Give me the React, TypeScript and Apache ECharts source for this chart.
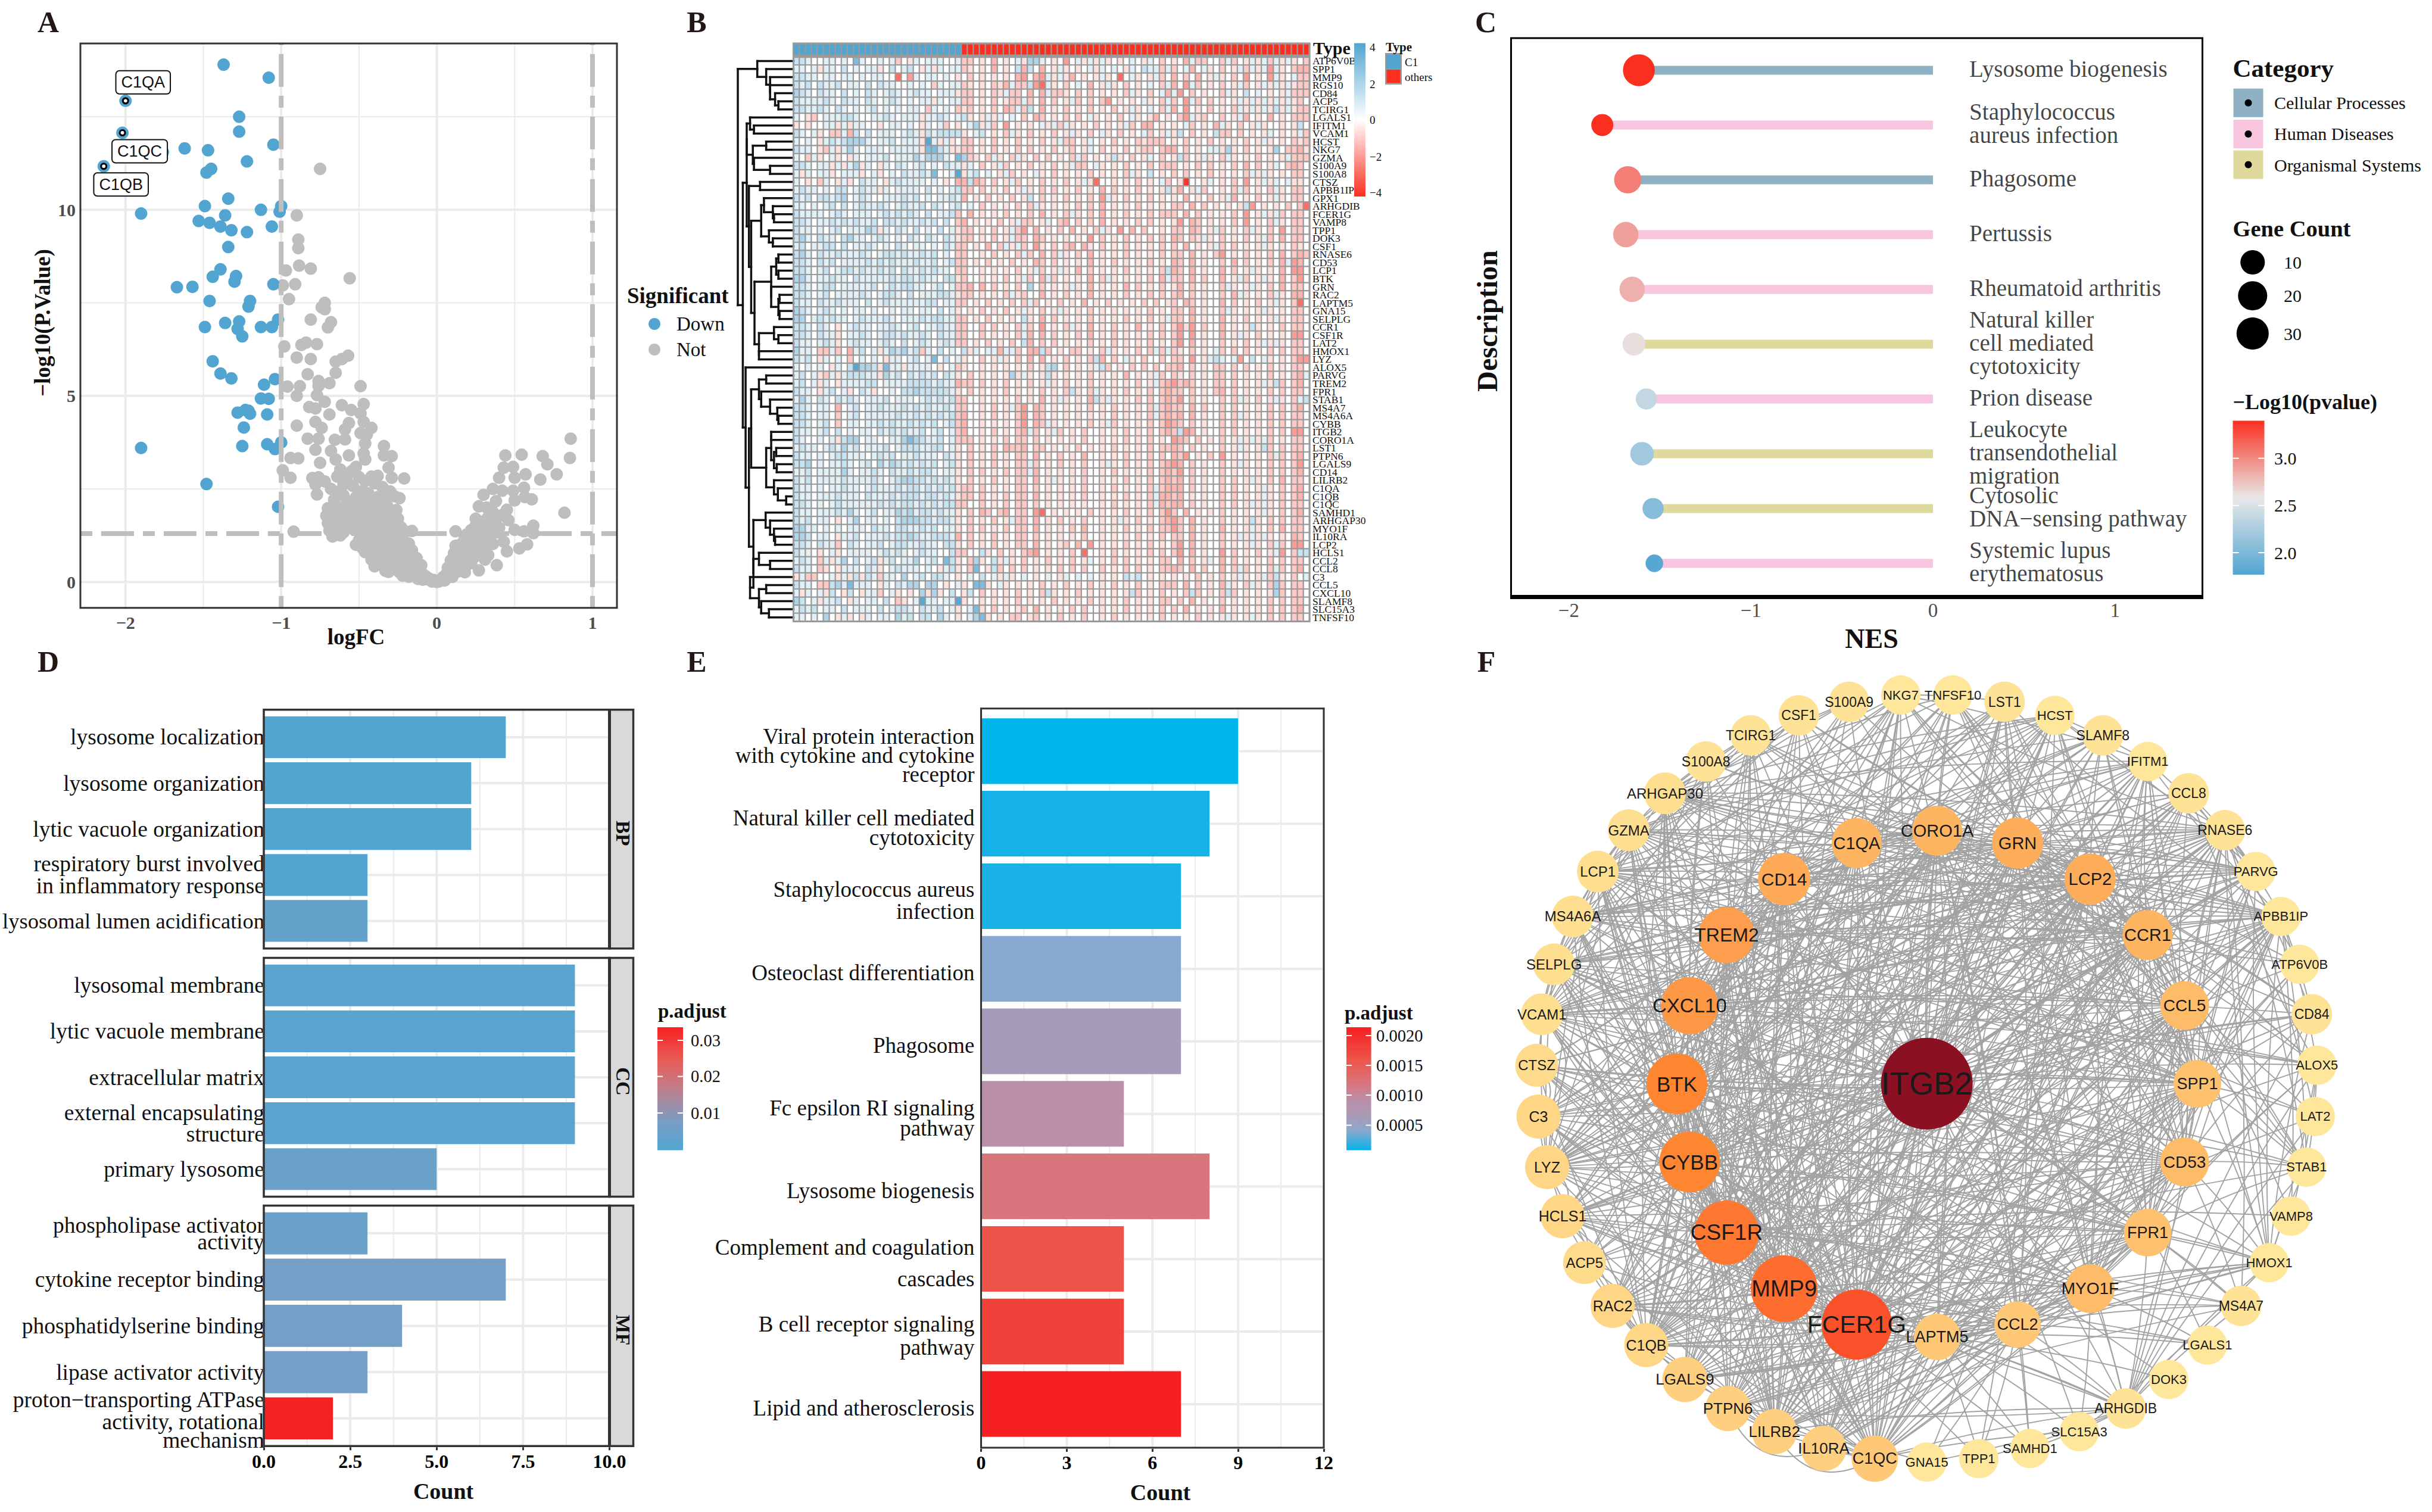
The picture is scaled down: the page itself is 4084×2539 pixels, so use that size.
import React, { useEffect, useRef } from "react";
import * as echarts from "echarts";

const SERIF = '"Liberation Serif"';
const SANS = '"Liberation Sans"';

// ---- Panel A
const volcanoDown = [[-1.37,13.9],[-1.08,13.55],[-1.27,12.5],[-1.27,12.1],[-1.05,11.75],[-1.62,11.65],[-1.47,11.6],[-1.76,11.55],[-1.22,11.3],[-1.45,11.1],[-1.48,11.0],[-1.34,10.3],[-1.49,10.1],[-1.0,10.1],[-1.01,9.95],[-1.13,10.0],[-1.36,9.85],[-1.9,9.9],[-1.53,9.7],[-1.46,9.65],[-1.06,9.55],[-1.39,9.55],[-1.32,9.45],[-1.22,9.4],[-1.34,9.0],[-1.39,8.4],[-1.44,8.2],[-1.29,8.22],[-1.3,8.07],[-1.05,8.0],[-1.67,7.92],[-1.57,7.93],[-1.46,7.55],[-1.2,7.55],[-1.21,7.4],[-1.02,7.05],[-1.27,7.0],[-1.36,6.96],[-1.13,6.85],[-1.06,6.85],[-1.49,6.85],[-1.28,6.8],[-1.25,6.6],[-1.44,5.93],[-1.39,5.6],[-1.32,5.47],[-1.04,5.45],[-1.11,5.3],[-1.13,4.93],[-1.08,4.92],[-1.28,4.55],[-1.23,4.62],[-1.21,4.6],[-1.2,4.52],[-1.09,4.5],[-1.24,4.15],[-1.0,3.75],[-1.09,3.7],[-1.25,3.65],[-1.04,3.57],[-1.9,3.6],[-1.48,2.63],[-1.02,2.02]];
const volcanoNamed = [{ name: "C1QA", x: -2.0, y: 12.93 },{ name: "C1QC", x: -2.02, y: 12.07 },{ name: "C1QB", x: -2.14, y: 11.17 }];
const volcanoNot = [[-0.75,11.1],[-0.9,9.85],[-0.89,9.2],[-0.89,8.97],[-0.885,8.5],[-0.81,8.42],[-0.97,8.37],[-0.56,8.16],[-0.91,8.0],[-0.99,7.97],[-0.95,7.6],[-0.72,7.5],[-0.74,7.38],[-0.72,7.33],[-0.81,7.05],[-0.68,6.98],[-0.7,6.84],[-0.98,6.33],[-0.87,6.37],[-0.84,6.43],[-0.77,6.39],[-0.9,6.03],[-0.81,5.99],[-0.57,6.08],[-0.61,5.99],[-0.65,5.92],[-0.65,5.62],[-0.83,5.58],[-0.76,5.4],[-0.69,5.34],[-0.76,5.27],[-0.49,5.26],[-0.88,5.26],[-0.96,5.25],[-0.9,5.0],[-0.77,5.02],[-0.72,4.84],[-0.47,4.78],[-0.61,4.75],[-0.82,4.7],[-0.78,4.66],[-0.55,4.62],[-0.49,4.53],[-0.69,4.5],[-0.78,4.3],[-0.565,4.27],[-0.47,4.3],[-0.42,4.14],[-0.74,4.14],[-0.9,4.2],[-0.59,4.1],[-0.49,4.0],[-0.45,3.96],[-0.83,3.85],[-0.76,3.85],[-0.655,3.82],[-0.59,3.83],[-0.46,3.72],[-0.34,3.65],[-0.78,3.55],[-0.68,3.52],[-0.565,3.4],[-0.47,3.45],[-0.34,3.4],[-0.29,3.38],[-0.94,3.33],[-0.89,3.32],[-0.46,3.29],[-0.65,3.29],[-0.75,3.2],[-0.52,3.09],[-0.31,3.07],[-0.99,3.0],[-0.94,2.8],[-0.76,2.81],[-0.8,2.79],[-0.62,3.02],[-0.55,2.97],[-0.42,2.83],[-0.38,2.85],[-0.29,2.8],[-0.21,2.78],[-0.72,2.7],[-0.64,2.83],[-0.58,2.76],[-0.5,2.82],[-0.46,2.71],[-0.78,2.62],[-0.68,2.5],[-0.6,2.62],[-0.54,2.58],[-0.4,2.65],[-0.35,2.55],[-0.3,2.43],[-0.77,2.35],[-0.65,2.42],[-0.6,2.33],[-0.48,2.44],[-0.44,2.38],[-0.38,2.28],[-0.33,2.39],[-0.27,2.3],[-0.24,2.25],[-0.66,2.21],[-0.58,2.18],[-0.52,2.27],[-0.47,2.16],[-0.43,2.22],[-0.39,2.12],[-0.34,2.17],[-0.7,1.98],[-0.65,2.04],[-0.6,1.95],[-0.55,2.06],[-0.5,1.96],[-0.45,2.02],[-0.41,1.9],[-0.36,1.98],[-0.32,2.05],[-0.26,1.93],[-0.71,1.78],[-0.66,1.83],[-0.61,1.72],[-0.56,1.84],[-0.5,1.74],[-0.46,1.8],[-0.42,1.69],[-0.38,1.82],[-0.34,1.72],[-0.29,1.81],[-0.25,1.7],[-0.7,1.58],[-0.64,1.63],[-0.58,1.54],[-0.52,1.62],[-0.47,1.52],[-0.43,1.58],[-0.39,1.47],[-0.35,1.6],[-0.31,1.5],[-0.27,1.56],[-0.23,1.47],[-0.69,1.38],[-0.65,1.42],[-0.6,1.33],[-0.53,1.4],[-0.49,1.3],[-0.45,1.37],[-0.41,1.26],[-0.37,1.38],[-0.33,1.28],[-0.29,1.35],[-0.25,1.25],[-0.2,1.35],[-0.16,1.37],[-0.92,1.35],[-0.67,1.22],[-0.62,1.25],[-0.5,1.12],[-0.46,1.17],[-0.42,1.07],[-0.38,1.16],[-0.34,1.06],[-0.3,1.13],[-0.26,1.03],[-0.22,1.1],[-0.18,1.03],[-0.52,1.0],[-0.48,0.92],[-0.44,0.98],[-0.4,0.88],[-0.36,0.94],[-0.32,0.84],[-0.28,0.92],[-0.24,0.82],[-0.2,0.9],[-0.16,0.85],[-0.46,0.8],[-0.41,0.72],[-0.37,0.78],[-0.33,0.67],[-0.29,0.74],[-0.25,0.64],[-0.21,0.72],[-0.17,0.62],[-0.13,0.64],[-0.42,0.6],[-0.38,0.52],[-0.34,0.58],[-0.3,0.48],[-0.26,0.55],[-0.22,0.45],[-0.18,0.5],[-0.14,0.4],[-0.1,0.45],[-0.4,0.42],[-0.33,0.3],[-0.28,0.34],[-0.24,0.26],[-0.2,0.31],[-0.16,0.24],[-0.12,0.28],[-0.09,0.21],[-0.31,0.27],[-0.22,0.17],[-0.18,0.14],[-0.14,0.17],[-0.1,0.12],[-0.07,0.15],[-0.05,0.09],[-0.12,0.08],[-0.09,0.06],[-0.06,0.07],[-0.04,0.04],[-0.02,0.05],[-0.03,0.01],[-0.01,0.02],[0,0],[0.01,0.01],[0.86,3.85],[0.855,3.33],[0.68,3.38],[0.71,3.16],[0.77,2.89],[0.665,2.75],[0.545,3.42],[0.44,3.4],[0.49,3.09],[0.43,3.07],[0.57,2.89],[0.4,2.8],[0.5,2.8],[0.56,2.53],[0.36,2.5],[0.42,2.45],[0.49,2.45],[0.3,2.34],[0.565,2.28],[0.61,2.22],[0.5,2.19],[0.82,1.86],[0.38,2.17],[0.27,2.03],[0.32,2.0],[0.45,1.94],[0.36,1.88],[0.46,1.66],[0.62,1.51],[0.25,1.52],[0.32,1.51],[0.5,1.4],[0.56,1.36],[0.62,1.31],[0.12,1.36],[0.19,1.27],[0.39,1.33],[0.43,1.08],[0.58,1.01],[0.53,0.9],[0.45,0.82],[0.385,0.45],[0.27,0.31],[0.18,0.26],[0.42,1.8],[0.38,1.67],[0.33,1.74],[0.29,1.62],[0.25,1.7],[0.4,1.45],[0.35,1.38],[0.3,1.43],[0.26,1.33],[0.22,1.39],[0.18,1.18],[0.34,1.21],[0.29,1.14],[0.25,1.22],[0.21,1.06],[0.16,1.03],[0.12,0.97],[0.36,1.02],[0.31,0.94],[0.27,1.0],[0.23,0.87],[0.19,0.92],[0.15,0.84],[0.11,0.77],[0.33,0.72],[0.28,0.8],[0.24,0.66],[0.2,0.72],[0.16,0.62],[0.12,0.66],[0.09,0.58],[0.31,0.6],[0.22,0.5],[0.18,0.45],[0.14,0.48],[0.1,0.41],[0.07,0.38],[0.15,0.3],[0.12,0.25],[0.09,0.27],[0.06,0.2],[0.1,0.14],[0.07,0.12],[0.04,0.13],[0.03,0.06],[0.05,0.04],[0.02,0.03]];

// ---- Panel B
const geneNames = ["ATP6V0B","SPP1","MMP9","RGS10","CD84","ACP5","TCIRG1","LGALS1","IFITM1","VCAM1","HCST","NKG7","GZMA","S100A9","S100A8","CTSZ","APBB1IP","GPX1","ARHGDIB","FCER1G","VAMP8","TPP1","DOK3","CSF1","RNASE6","CD53","LCP1","BTK","GRN","RAC2","LAPTM5","GNA15","SELPLG","CCR1","CSF1R","LAT2","HMOX1","LYZ","ALOX5","PARVG","TREM2","FPR1","STAB1","MS4A7","MS4A6A","CYBB","ITGB2","CORO1A","LST1","PTPN6","LGALS9","CD14","LILRB2","C1QA","C1QB","C1QC","SAMHD1","ARHGAP30","MYO1F","IL10RA","LCP2","HCLS1","CCL2","CCL8","C3","CCL5","CXCL10","SLAMF8","SLC15A3","TNFSF10"];
const c1Samples = 28;
const otherSamples = 58;
const cellLevels: Record<string, number> = { "0": 0, "1": 0.7, "2": 1.3, "3": 1.9, "4": 3, "5": 3.9, a: -0.6, b: -1.05, c: -1.45, d: -1.9, e: -2.8, f: -3.9 };
const expressionRows = [
"2210011010 4100101b0a 10111001bb 0a0c0a01a3 310a0d01a1 a1a0a010a1 0b0a0c1bb0 0b1b0a1a1b 1a1a0b",
"1101a11020 1011a02012 0a1a1011ba 0a0c0a02c2 0c0a1a0a01 a1010a1021 1b1b01c01a 0b0a1b1a1d 1a0bcc",
"2211011011 0101100e0d 1011010a0b 0a0a0a0cd0 cd1a1ac0a0 a1a0e01a0a 1b0c0b0c0a 1a0b0d0a0d 1a01bb",
"2120211201 1020211001 010b1011ba 0a0bac1bb2 de1a0b010c 0a1a0b0a01 0b1c0d1b0a 0b0a1b0a1a 1a1abb",
"3210211020 1021012101 2110111abb 0a0ba1bb0c 0c1bba0b0b 0a0a0b1a0b 01c1d0b0a0 0b1a02010a 0a1bbb",
"2111121021 1021012101 011a1011bb 0a0b0abb1b 0c0b0a1b0b 0bd0a0a01a 0b1b0d1b0b 0a0a1a1a1a 1a1ab0",
"2211210210 1012010101 10b1010bab 0a0b0cb1b2 0c0a0b0a0b 0a0b0a1a01 0b1c0d0a0b 0a0b1a1a1a 2a1abb",
"10ab011122 1001121011 1a1121012a 0a1a1010b0 cb0a0b0b01 a0a0b01a0a c0a0bd1ab0 0b0a1c0a0c 0a0bbb",
"a0a0011a1a 1100a01101 0a101b0a01 3a1b0d0a0a 01a1b1a0a0 b0a0a1b0cc 0a0a01b0a0 c1a0b0a1a0 0a0a20",
"2101a0bb1c 2020111012 1a212222a0 120a0b1a0b 0a0b0a1a0b 01a0b0a01b 0a1a20b0a0 2bb0b0a0a1 0a0a1b",
"1010a12123 3310112011 1a51a1a0bb 0a0b0a0b0a 0b0a1bb0a1 0a0b0a0bab bb0a0b0a0b 0a0a0b0a1a 0a0bab",
"2110ab1a13 1011101111 1a4421aabb 0a0b0a0b0b 0a0b0ab0a1 0b0a0b0abb 0bcc0b0a01 1a3a0b0a0a 30bbca",
"10b1a01a0a 1011120111 313331043b a0b1a0b1a0 b0b0a0b1b0 a0a2a0b0a1 0b0a2b0a1a 0b1a0a0b0a 0a1bbb",
"221011a1a1 3a10a10210 12010211a1 0b0a1b0a0b 0a0b0a1bb0 1a0a0b0a0b 0bbb0a0b0b 0a0b0c0b0a 10bcb0",
"1a1011a011 1a01a01021 12140015a1 2010a1b0a0 1a0b0a0a0b 0a0a0b1a02 0a0b0b0a0b 0a0a0b1a1a 0a0bb0",
"10a0b10a1a 02110a1211 1101 0a0cc2 cb0b0a1b0a 0b0a0b0a1a e00a0a0b0a 01b0af00a1 0a0b0d0a1a 101aa0",
"1211010220 1211a10111 10201012bb 0b0a0b0a1a 0b0b0a0b0a 0c0b0a0b0a 0a2ac0a1b0 0a0b1b0a0b 1a0bb0",
"2120221230 1210011121 20101121c0 a0b0a0b0a2 0b0a0b0a0b 0d1a0b0a0b 0a0a0c0a0b 0a1c0a0b0a 1a0bb0",
"1101012020 1211210121 1202101201 0b0a0a0b0b 1a0a0a0b0b 0c0a0a0b0a 0a0bb0c0b0 a0a0a2d0a0 a0b0be",
"2111101210 1110121212 1020112b0c 0a0a0b0a0b 0c0a0b1a0b 0c0a0b0a0b 0bbb0c0b0a 0a0b0d0a1a 1b0bb0",
"2210112121 2112022121 1212020bc0 a0a0b0a1bb 0a10bc0b0b 0c0a0a0b0b 0a0ad0cb0a 0a0b0d0a0b 1a0bb0",
"2110101201 1132a10210 2010201abb 0a0b0a1bd0 c0a0b0c0a0 b1a0d0c0b0 0a0bb0cb0a 1b0a0b1a0b 0d0bb0",
"2310211023 1101210102 1021021abb 0a0b0a1bb0 cb0a0a0a0d 0b0a0b0a0b 0b0cb0ba1a 0b0a0b0a1b 0c0bb0",
"1201122020 1121010210 1101021bb0 a0c0b1a1b0 da0b0bc0ca 0b0a0b0a0a 0b0b0c0a0a 1b0b0a0a1a 0a0ba0",
"2310211211 1210122121 1212010bb0 0a0b0a0b1b 0c0b1a0b0c 0a0a0b0a0a 0b0bb0c0a0 bd0a0b0a0b 0c0bcb",
"2210212011 1121212111 2112012bb0 a0b0a0b0a0 cb0b0a0a0c 0a0b0a0a0b 0a0cb0c0a0 0b0c0b0a0b 0c1dc0",
"2210120122 1211212021 1212110bb0 0a0a0a0b0a 1b0a1a0c0b 0a0a0b0a0a 0b2cb0c0a0 0c0b0a1a0a 0c0dd0",
"3310112110 2111112122 1211022ab0 0a0a0b0a1b 0c1b0a0a0c 0b1a0a0a0b 0c1bb0c0b0 0c0a1b0a1a 0c0bd0",
"2210122011 1112012122 1101201bbc 0c0b0a0b03 0b0a0a1a0c 0a0a0c0b0a 0b0ac0b0a0 0b1a0a1a0b 0c0bb0",
"2210120111 1210122102 0111221abb 0a0a0b1ab0 0c0a0b0a0c 0a0a0b0a0b 0b0bc0b0a0 0b0c1a0a0b 1a0cc0",
"2110211211 1020121111 1122011bb0 a0b0a0b0b1 b0a0b0a0c0 a0b0a0a0b0 b0ab0cb0a0 0c0b0a0b0a 1a0be0",
"3210121010 1101001011 0110201a0a 0b0a0b0a1a 0b0a1a0a0b 0a0a0a0a0b 0a0bb0c0a0 0b1a0a0a1a 0a0bb0",
"3301212110 1211121011 1212211bb0 a0b0a0a02a 0c0b0a0a0b 0a0a0b0a0b 0a1bb0c0a0 0c0a0b0a0a 1a0bb0",
"2210210a01 2110112101 2011211bb0 0b0b0a0b1b 0d0a0b1a0c 0a0b0a0c0a 0b0bdad0b0 0c0a0a2a0a 0b0bb0",
"2210211a01 1210122121 1210211bb0 0b0a0a0b1c 0c0b0a0b0c 0a0b0a0a0b 0b0bd0d0a0 0c0a1a0b0a 0a0dd0",
"2110121a01 2110121020 1210121bb0 a0b0a0b02c 0b0b0a0a0b 0a0b0a0a0b 0a0bd0c0a0 0b0a0b0a1a 1a0bb0",
"3110bb1b0c 1201a13231 2b1020102a 1011c11b0c c2b0a0bb0a 0b1a0a0b0b 1b1ba0b0a0 1b0b0b0a0b 0b0bb0",
"2120a1010b 01010a1101 20140201a0 0b0a1a0b0c 0c0a0b0a0b 2c0b01a0b0 0b0bb0d0a1 2101d0201a 0a0bdd",
"101010a102 5332a411a1 1110a01ba0 0a0a0a0a0b 0a230b0a0a 12b0a0b0b0 b0bbc0b0a0 bb0b0b0a0b 0a0bb0",
"1201ab1a12 2211a31202 1212021a0b 0a0a0a3a1a 0a2a0a0a0b 0a0a0c0a0a 1b0ba0b0a0 bb0b0a0a0b 0a0bc1",
"1201a10a11 1122011112 2221211cbb 0b0a0b0a0b 0a1a0b0a0b 0a0a0a0b0a 1bcdbcb0a0 bb0b0a0a1a 2b0bc0",
"2110a1201a 021a001022 3222221a0b 0a0a0b0a0a 0b0a0b2a0b 1a0a0b0a0b 0bcbb0b0a0 bc0b0a0a0b 0b0bb0",
"1310210212 1011120111 0121212bb0 0a0a0a0b0a 0c0a1a0a0c 2a1a0a0b0b 0bcbd0b0a0 0b0b1a0b0a 1a0b12",
"2210110c01 2011211121 2121121bb0 0a0b0a1bd0 cb0a0a0a0b 0a0b0a0a0b 1bcbb0c0b0 0b0b0a0a0b 0b0bc0",
"2210110b01 2011111211 2121212bc0 0a0b0a0bd0 cb0a0a0a0a 0a0b0a0a0b 1bcbc0c0a0 0b0b1a0a0b 0b0bb0",
"2210120b01 1011212112 1212012bc0 0a0a0a0bd0 cb1a0a0a0b 0a1b0a0a0b 0bdcb0b0a0 0b0b0a0a0b 0b0bb0",
"2110120201 0110212121 1201201bc0 0a0b0a0bc1 b0a1b0a0b0 0a0a0b0a0b 0bcb2dc0a0 0b0b0a0a0b 0b0dd0",
"2100101a23 3011001134 3211201bbb 0a0a0b0bb0 b0a0a0a0b0 0a0a0b0a0b 0a0dcb0b0a 0b0a1a1a1b 0a0bb0",
"1211012131 2011120122 2112201a0b 0a0b0cbbc0 bb0a0a0b0a 0a0b0a0a0b 0bbcb0b0a0 0b0a1a0a2b 0b0bb0",
"2110101221 1101212011 2111021a0b 0a0b0a0bb0 c0a0b0a0c0 0a0a0b0a0b 0b0cbd0a0b 0d0a0a0a0b 1b0bc0",
"2230101121 0120313212 1212012a0b 0a0b0a0bb1 b0a0b0a0b0 0a1a0b0a0b 0bcdc0b0a0 0b0a1a0a0b 0b0bd0",
"1120111131 0112102112 1221011a0b 0b0a0b0bb1 c0a0a0a0b0 0a0b0a0a0b 0bcbd0b0a0 0b0a0a0a0b 0b0bc0",
"2120111121 1112101233 2212121a0b 0a0b0a0bb0 c0a1a0a0b0 0a0a0b0a0b 0bcbc0b0a0 0b0b0a1a0b 0c0bb0",
"2110101121 1012111212 2121212abb 0b0a0a0bb0 b0a0a0a0b0 0a0b0a0a0b 1bccc0b0a0 0b0b0a0a1a 0b0bc0",
"2110111211 1021112122 2122121abb 0b0a0b0bb0 c0a0a0a0b0 0a0a0b0a0b 1ccbc0a0a0 0b0b0a0a1a 0b0bc0",
"2210101211 1111212122 1212122bb0 0b0a0b0bb0 b0a0a0a0a0 0a0b0a0a0b 1cbcc0b0a0 0b0b0a1a1a 0b0bb0",
"2110111213 1012011323 1221211a0b 0cb0bc0bb0 de0a0a0a0b 0a0a0b0a0b 0bdb0c0a0a 0b0a0a0a1a 0b0bc0",
"2120110a01 3011010233 3221221a0b 0a0b0a1bb0 c0a0b0a0b0 0a0a1a0b0a 0bcdb0c0a0 0b0a0a2a0b 0b0bb0",
"3311010101 1102110221 1212011a0b 0b0a0b0bb0 c0a0a0b0c0 0a0a0b0a0b 0bbdb0c0a0 0c0a0a1a0b 0c0bb0",
"3320110a11 2011121223 2112221c0b 0a0b0a0bb0 b0a0a0a0b0 0a0a0a0b0a 0b0bb0c0a0 0b0a1a1a1a 0a0cb0",
"2210211b02 1011201221 1211022a0b 0a0b0a0bb0 c0a0ab0c0d 0a0a0b0a0b 0a0bd0c0a0 0b0a0a1a0b 1b0dd0",
"2110a01a01 1110121210 1211002bb0 02a0b0a0bc d0a0a0b0e0 0a0b0a0a0b 0b0bd0c0a0 0d0b0a0b0a 1d0b22",
"1210b1a130 2012a12011 3012042a0b 3a02a1a0b0 a0b0a0b0a1 0a0b0b0a0a 0bb0c0b0a1 0c0b0a0a0b 0b0bb0",
"2110ba0a11 1021a01211 1010a12a0b 40a2b0b0b0 a0a0b0b0b0 0b0a0b0b0a 0bbcb0c0b0 0c0b1b0a0b 1b0bc0",
"a1bb001a1a 2a21b11030 1202210a01 0201a1a010 a010a10101 0a0a02120a 0a0a0a0b0a 0b0a1a0a1b 2a0b01",
"2110bb2314 1110a10213 30330a01a0 44a01a0a0a 0b0a0b0a0b 0a0b0a0b0a 0bbb0c0b0a 0c1a0b1a0b 3b0bb0",
"1a101a20a2 0a11b01a0a 03a3a020a2 0b0a0a0b0a 0b2a0a0b0a 0a0a0a2b0a 0b0a0b2b0a 0b2b0a0a0a 3b0bb0",
"3201a1120a 1011020ba0 15110115a0 0a0a0a0b0a 0a0b0a0a0b 0a0a0b0a0a 0bb0b0c0a0 0b0a0a0a0b 0b0bb0",
"1212011020 1110201221 0211201a01 4a0b0a0ab0 c0a0a0b0b0 0a0a0b0a0a 0b0b0c0a0a 0c0a0a0a0b 0b0bc0",
"1101030a1a 0a10110312 0220310a01 34a0a0bb0a b0a0b0a0b0 0a0b0a0a0a 0b0a0a0b0a 0a1a0a1a0b 0b0bb0",
];
// dendrogram: [height, left, right], leaves are row numbers
const dendrogram: any = [1.0,
  [0.65,0,[0.49,1,[0.42,2,[0.42,3,[0.33,4,[0.27,5,6]]]]]],
  [0.91,
    [0.84,
      [0.84,[0.78,7,[0.71,8,9]],[0.73,[0.49,10,11],[0.71,12,[0.42,13,14]]]],
      [0.8,[0.6,15,16],[0.76,
        [0.58,[0.53,17,[0.37,18,[0.35,19,20]]],[0.44,21,[0.37,22,23]]],
        [0.7,[0.4,[0.31,[0.27,24,25],[0.27,26,27]],[0.4,28,[0.27,[0.25,29,30],[0.25,31,32]]]],
          [0.62,[0.35,33,[0.27,34,35]],[0.62,36,37]]]]]],
    [0.86,38,[0.8,
      [0.76,[0.62,[0.49,39,40],[0.58,41,[0.42,42,[0.29,43,[0.27,44,45]]]]],
        [0.49,[0.4,[0.4,46,47],[0.35,[0.31,48,49],[0.3,50,51]]],[0.35,52,[0.28,53,[0.13,54,55]]]]],
      [0.72,[0.5,56,[0.42,57,[0.35,58,[0.33,59,60]]]],
        [0.72,[0.62,61,[0.42,62,63]],[0.78,64,[0.62,[0.49,65,66],[0.58,67,[0.44,68,69]]]]]]]]]];

// ---- Panel C
const pathwayLabels = ["Lysosome biogenesis","Staphylococcus\naureus infection","Phagosome","Pertussis","Rheumatoid arthritis","Natural killer\ncell mediated\ncytotoxicity","Prion disease","Leukocyte\ntransendothelial\nmigration","Cytosolic\nDNA−sensing pathway","Systemic lupus\nerythematosus"];
const pathwayNES = [-1.615,-1.816,-1.676,-1.687,-1.652,-1.642,-1.574,-1.598,-1.537,-1.53];
const pathwayGeneCount = [29,7,16,12,12,8,6,9,6,3];
const pathwayLogP = [3.4,3.4,3.05,2.9,2.83,2.63,2.38,2.2,2.05,1.8];
const pathwayCategory = [0,1,0,1,1,2,1,2,2,1];
const categoryNames = ["Cellular Processes","Human Diseases","Organismal Systems"];
const categoryColors = ["#8fb1c4","#f7c6de","#dfd99c"];

// ---- Panel D
const goFacets = [
  { strip: "BP", terms: ["lysosome localization","lysosome organization","lytic vacuole organization","respiratory burst involved\nin inflammatory response","lysosomal lumen acidification"], counts: [7,6,6,3,3], padj: [0.0001,0.0002,0.0002,0.0003,0.0037] },
  { strip: "CC", terms: ["lysosomal membrane","lytic vacuole membrane","extracellular matrix","external encapsulating\nstructure","primary lysosome"], counts: [9,9,9,9,5], padj: [0.0016,0.0016,0.0016,0.0016,0.005] },
  { strip: "MF", terms: ["phospholipase activator\nactivity","cytokine receptor binding","phosphatidylserine binding","lipase activator activity","proton−transporting ATPase\nactivity, rotational\nmechanism"], counts: [3,7,4,3,2], padj: [0.0054,0.0072,0.0072,0.0072,0.0337] },
];
// ---- Panel E
const keggTerms = ["Viral protein interaction\nwith cytokine and cytokine\nreceptor","Natural killer cell mediated\ncytotoxicity","Staphylococcus aureus\ninfection","Osteoclast differentiation","Phagosome","Fc epsilon RI signaling\npathway","Lysosome biogenesis","Complement and coagulation\ncascades","B cell receptor signaling\npathway","Lipid and atherosclerosis"];
const keggCounts = [9,8,7,7,7,5,8,5,5,7];
const keggPadj = [0.00008,0.00012,0.00013,0.0004,0.0006,0.0009,0.0012,0.0016,0.0018,0.00214];

// ---- Panel F
const outerRing = ["NKG7","TNFSF10","LST1","HCST","SLAMF8","IFITM1","CCL8","RNASE6","PARVG","APBB1IP","ATP6V0B","CD84","ALOX5","LAT2","STAB1","VAMP8","HMOX1","MS4A7","LGALS1","DOK3","ARHGDIB","SLC15A3","SAMHD1","TPP1","GNA15","C1QC","IL10RA","LILRB2","PTPN6","LGALS9","C1QB","RAC2","ACP5","HCLS1","LYZ","C3","CTSZ","VCAM1","SELPLG","MS4A6A","LCP1","GZMA","ARHGAP30","S100A8","TCIRG1","CSF1","S100A9"];
const outerDegree = [8,8,9,8,9,8,9,9,8,8,8,9,8,8,8,8,8,9,8,8,9,8,8,8,8,14,13,13,13,13,12,12,11,12,12,12,11,10,10,10,10,10,10,9,9,9,9];
const innerRing = ["CORO1A","GRN","LCP2","CCR1","CCL5","SPP1","CD53","FPR1","MYO1F","CCL2","LAPTM5","FCER1G","MMP9","CSF1R","CYBB","BTK","CXCL10","TREM2","CD14","C1QA"];
const innerDegree = [17,18,18,17,16,15,16,15,16,14,14,34,31,29,26,26,23,22,19,17];
const hubName = "ITGB2";
const hubDegree = 52;
const edgeLists: number[][] = [
[67,0,1,2,3,4,5,6,7,8,9,11,12,14,16,17,20,21,25,26,27,28,29,30,31,32,33,34,35,36,37,38,39,40,41,42,43,44,45,46,47,48,49,50,51,52,53,54,55,56,57,58,59,60,61,62,63,64,65,66],
[58,0,2,3,6,7,8,9,11,13,16,17,20,22,25,26,27,28,29,30,31,32,33,34,35,36,37,38,39,40,41,42,44,45,47,48,49,50,51,52,53,54,55,56,57,59,60,61,62,63,64,65,66],
[59,1,3,5,7,9,12,14,18,20,23,25,26,27,28,29,30,31,33,34,35,36,37,38,39,40,42,43,44,46,47,49,50,51,52,53,55,56,60,61,62,63,64,65,66],
[60,0,2,4,6,7,8,10,15,17,25,26,27,28,29,30,31,32,33,34,35,37,38,39,40,41,42,44,45,47,48,49,50,53,54,55,61,62,64,65,66],
[61,1,3,5,7,9,11,16,20,25,26,27,28,29,30,31,33,34,36,37,38,39,40,41,42,43,45,46,47,49,50,51,53,54,55,62,63,64,65,66],
[62,0,2,4,6,8,14,19,25,26,27,28,29,30,32,33,34,35,36,37,38,39,40,41,42,44,47,49,50,52,53,55,57,63,65],
[63,0,1,3,5,7,9,12,25,27,28,30,31,33,34,35,37,38,40,41,42,43,46,47,49,50,51,52,56,64,66],
[64,2,4,6,8,10,25,26,27,29,30,31,32,34,36,38,39,40,42,44,48,49,50,52,54,65,66],
[65,1,3,5,7,9,25,26,27,28,29,30,31,33,35,37,39,40,41,44,47,48,49,50,53,66],
[66,0,2,4,6,8,25,26,27,28,29,30,32,34,36,39,42,45,47,48,49,50,52],
[47,1,3,5,7,9,26,28,30,33,35,38,40,41,43,46,48,49,50,51,12,14,20,22,25,27,29,31,34,37,39,42,44,52,53,54,55,56,57],
[48,0,2,6,8,10,27,29,31,34,37,39,42,44,49,50,53,5,11,14,25,26,28,30,32,35,38,41,45,51,52,54,55,56],
[49,1,4,5,7,8,9,11,25,28,30,33,36,38,41,45,50,51,54,0,2,6,14,26,27,29,31,34,37,39,40,42,43,52,53,55,56,57],
[50,0,3,6,7,8,9,12,14,27,29,31,34,39,42,51,52,1,5,10,25,26,28,30,33,35,37,40,41,44,46,53,54,55,57],
[51,2,5,7,9,13,15,25,28,32,35,38,40,44,52,53,55,0,4,8,26,27,29,30,31,33,34,37,39,41,42,54,56,57],
[52,1,4,8,9,10,14,16,26,29,33,37,41,53,54,3,5,7,13,25,27,28,30,31,34,36,38,40,42,45,55,56,57],
[53,3,6,9,11,17,20,27,30,34,36,38,54,55,56,1,7,8,14,16,25,26,28,29,31,33,35,37,39,41,44,57],
[54,5,7,12,16,18,25,28,31,37,40,55,56,2,9,14,17,20,26,27,29,30,33,34,36,38,42,57],
[55,2,8,10,17,20,25,26,29,33,39,56,57,5,12,16,18,21,27,28,30,31,34,35,37,41],
[56,4,9,16,18,20,24,26,27,30,35,38,57,7,17,23,25,28,29,31,33,36,40],
[57,6,19,20,21,23,25,26,27,31,36,41,2,9,16,18,22,28,29,30,33,37],
[25,2,5,10,20,26,27,29,30,32,34,37,40,43,0,7,9,21,33,39],
[27,4,7,17,24,28,30,31,33,35,38,41,44,1,9,16,20,40,45],
[30,1,3,9,29,31,32,34,36,39,42,45,5,7,8,11,33,40],
[34,0,6,8,33,35,37,38,40,43,46,2,4,7,9,11,41],
[37,2,7,11,36,38,39,41,44,0,4,8,9,12,42,45],
[40,5,9,38,39,41,42,45,0,3,7,8,13,46],
[42,1,8,43,44,46,3,5,7,9,11],
[38,0,3,7,8,9,12,39,43,45],
[39,1,5,7,9,41,44],
[41,3,4,8,9,44,46],
[20,12,14,16,17,23,24,28,9,11,13,22],
[16,9,11,14,21,29,38,5,7,8],
[7,8,9,11,13,36,0,3,14,17],
[9,11,12,14,33,2,5,15],
[12,14,15,16,1,6],
[0,2,5,22,28,31,33],
[3,5,8,23,26,29,33],
[5,8,24,27,32],
[6,8,10,26,31,35],
];
const curvedEdges = [[37,35],[36,35],[34,33],[33,32],[25,27],[26,28]];

// ---- helpers
function lerpStops(stops: [number, string][], v: number) {
  const hex = (c: string) => [1, 3, 5].map((i) => parseInt(c.slice(i, i + 2), 16));
  if (v <= stops[0][0]) return stops[0][1];
  for (let i = 1; i < stops.length; i++) {
    if (v <= stops[i][0]) {
      const t = (v - stops[i - 1][0]) / (stops[i][0] - stops[i - 1][0]);
      const a = hex(stops[i - 1][1]), b = hex(stops[i][1]);
      return `rgb(${a.map((x, k) => Math.round(x + (b[k] - x) * t)).join(",")})`;
    }
  }
  return stops[stops.length - 1][1];
}
const logPStops: [number, string][] = [[1.77, "#52a5d1"], [2.585, "#e8e8e8"], [3.4, "#fb2f1f"]];
const goStops: [number, string][] = [[0, "#52a5d1"], [0.0072, "#759fc6"], [0.017, "#c17e8c"], [0.025, "#e85a55"], [0.0337, "#f62222"]];
const keggStops: [number, string][] = [[0.00008, "#00b5ea"], [0.00013, "#1bb1e6"], [0.0004, "#87a8cf"], [0.0006, "#a69cba"], [0.0009, "#ba90a9"], [0.0012, "#d9757d"], [0.0016, "#ee5449"], [0.00214, "#f62022"]];
const degreeStops: [number, string][] = [[8, "#fee79b"], [12, "#fed685"], [14, "#fec876"], [16, "#febb68"], [18, "#feae5a"], [22, "#fd9e4e"], [26, "#fe8631"], [29, "#fe7831"], [31, "#fd6d30"], [34, "#f9522b"], [52, "#8b1022"]];
const labelLineHeights: Record<string, number[]> = {
  "respiratory burst involved\nin inflammatory response": [37, 37],
  "phospholipase activator\nactivity": [28, 28],
  "external encapsulating\nstructure": [36, 36],
  "proton−transporting ATPase\nactivity, rotational\nmechanism": [37, 37, 26],
  "Viral protein interaction\nwith cytokine and cytokine\nreceptor": [32, 32, 32],
  "Natural killer cell mediated\ncytotoxicity": [33, 33],
  "Staphylococcus aureus\ninfection": [37, 37],
  "Fc epsilon RI signaling\npathway": [34, 34],
  "Complement and coagulation\ncascades": [53, 53],
  "B cell receptor signaling\npathway": [39, 39],
};
const richFor = (fontSize: number) => {
  const r: any = {};
  [26, 28, 32, 33, 34, 36, 37, 38, 39, 53].forEach((h) => {
    r["h" + h] = { fontFamily: SERIF, fontSize, lineHeight: h, align: "right", color: "#111" };
  });
  r.narrow = { fontFamily: SERIF, fontSize: fontSize - 1, lineHeight: 38, align: "right", color: "#111" };
  return r;
};
const richLabel = (v: string) => {
  if (v === "lysosomal lumen acidification") return `{narrow|${v}}`;
  const hs = labelLineHeights[v];
  return v.split("\n").map((l, i) => `{h${hs ? hs[i] : 38}|${l}}`).join("\n");
};
const minusFmt = (v: any) => String(v).replace("-", "−");

function App() {
  const ref = useRef<HTMLDivElement>(null);
  useEffect(() => {
    document.body.style.margin = "0";
    const chart = echarts.init(ref.current!, undefined, { renderer: "svg" });

    const grids: any[] = [], xAxes: any[] = [], yAxes: any[] = [], series: any[] = [], gfx: any[] = [];
    const addGrid = (l: number, t: number, w: number, h: number, xa: any, ya: any) => {
      const i = grids.length;
      grids.push({ left: l, top: t, width: w, height: h, containLabel: false, outerBoundsMode: "none" });
      xAxes.push({ gridIndex: i, ...xa });
      yAxes.push({ gridIndex: i, ...ya });
      return i;
    };
    const segSeries = (g: number, data: number[][], color: string, z = 1) => {
      series.push({
        type: "custom", xAxisIndex: g, yAxisIndex: g, z, silent: true, clip: false, data,
        encode: { x: [0, 2], y: [1, 3] },
        renderItem: (_p: any, api: any) => {
          const a = api.coord([api.value(0), api.value(1)]);
          const b = api.coord([api.value(2), api.value(3)]);
          return { type: "line", shape: { x1: a[0], y1: a[1], x2: b[0], y2: b[1] }, style: { stroke: color, lineWidth: api.value(4), lineCap: "square" } };
        },
      });
    };
    const gridLines = (xMaj: number[], xMin: number[], yMaj: number[], yMin: number[], xr: number[], yr: number[], wMaj = 4, wMin = 2) => [
      ...xMaj.map((x) => [x, yr[0], x, yr[1], wMaj]),
      ...xMin.map((x) => [x, yr[0], x, yr[1], wMin]),
      ...yMaj.map((y) => [xr[0], y, xr[1], y, wMaj]),
      ...yMin.map((y) => [xr[0], y, xr[1], y, wMin]),
    ];
    const hidden = (extra: any = {}) => ({ show: false, type: "value", ...extra });
    const txt = (x: number, y: number, text: string, fontSize: number, o: any = {}) =>
      gfx.push({ type: "text", x, y, rotation: o.rot || 0, silent: true, z: o.z ?? 60, style: { text, fontSize, fontFamily: o.family || SERIF, fontWeight: o.bold ? "bold" : "normal", fill: o.color || "#111", align: o.align || "left", verticalAlign: o.va || "middle" } });
    const rect = (x: number, y: number, w: number, h: number, style: any, z = 55) =>
      gfx.push({ type: "rect", silent: true, z, shape: { x, y, width: w, height: h }, style });
    const circ = (cx: number, cy: number, r: number, fill: string) =>
      gfx.push({ type: "circle", silent: true, z: 60, shape: { cx, cy, r }, style: { fill } });
    const colorBar = (x: number, y: number, w: number, h: number, stops: [number, string][]) => {
      const lo = stops[0][0], hi = stops[stops.length - 1][0];
      const cs = [...stops].reverse().map(([v, c]) => ({ offset: (hi - v) / (hi - lo), color: c }));
      rect(x, y, w, h, { fill: new echarts.graphic.LinearGradient(0, 0, 0, 1, cs) });
    };
    const barTicks = (x: number, w: number, ys: number[], len: number) => ys.forEach((y) => {
      rect(x, y - 1, len, 2, { fill: "#fff" }, 58);
      rect(x + w - len, y - 1, len, 2, { fill: "#fff" }, 58);
    });

    // panel letters
    ([["A", 81, 37], ["B", 1170, 37], ["C", 2495, 37], ["D", 81, 1111], ["E", 1170, 1111], ["F", 2496, 1111]] as [string, number, number][]).forEach(([t, x, y]) =>
      txt(x, y, t, 50, { bold: true, align: "center", color: "#231815" }));

    // ---------- A
    const axTxt = { fontFamily: SERIF, fontWeight: "bold", fontSize: 30, color: "#4d4d4d" };
    const ax = [-2.29, 1.157], ay = [-0.696, 14.47];
    const gA = addGrid(135, 73, 901, 947.7,
      { type: "value", min: ax[0], max: ax[1], splitLine: { show: false }, axisLine: { show: false },
        axisTick: { show: true, length: 6, customValues: [-2, -1, 0, 1], lineStyle: { color: "#333", width: 2 } },
        axisLabel: { ...axTxt, margin: 10, customValues: [-2, -1, 0, 1], formatter: minusFmt } },
      { type: "value", min: ay[0], max: ay[1], splitLine: { show: false }, axisLine: { show: false },
        axisTick: { show: true, length: 6, customValues: [0, 5, 10], lineStyle: { color: "#333", width: 2 } },
        axisLabel: { ...axTxt, margin: 8, customValues: [0, 5, 10] } });
    segSeries(gA, gridLines([-2, -1, 0, 1], [-1.5, -0.5, 0.5], [0, 5, 10], [2.5, 7.5, 12.5], ax, ay), "#ebebeb");
    series.push({ type: "scatter", xAxisIndex: gA, yAxisIndex: gA, z: 2, symbolSize: 21, data: volcanoNot, itemStyle: { color: "#bebebe", opacity: 1 } });
    series.push({ type: "scatter", xAxisIndex: gA, yAxisIndex: gA, z: 3, symbolSize: 21, data: volcanoDown, itemStyle: { color: "#52a5d1", opacity: 1 } });
    const thresholds = [[[-1, ay[0]], [-1, ay[1]]], [[1, ay[0]], [1, ay[1]]], [[ax[0], 1.3], [ax[1], 1.3]]];
    thresholds.forEach((d) => series.push({ type: "line", xAxisIndex: gA, yAxisIndex: gA, z: 4, showSymbol: false, silent: true, data: d, lineStyle: { color: "#bebebe", width: 8, type: [20, 15, 55, 15] } }));
    series.push({ type: "scatter", xAxisIndex: gA, yAxisIndex: gA, z: 5, symbolSize: 21, data: volcanoNamed.map((d) => [d.x, d.y]), itemStyle: { color: "#52a5d1", opacity: 1 } });
    const labelOffsets = [[29.5, -31], [29, 31], [29, 30.5]];
    series.push({
      type: "scatter", xAxisIndex: gA, yAxisIndex: gA, z: 6, symbolSize: 9,
      data: volcanoNamed.map((d, i) => ({ value: [d.x, d.y], name: d.name, label: { offset: labelOffsets[i] } })),
      itemStyle: { color: "#fff", borderColor: "#000", borderWidth: 3, opacity: 1 },
      label: { show: true, position: "inside", formatter: "{b}", fontFamily: SANS, fontSize: 27, color: "#111", backgroundColor: "#fff", borderColor: "#111", borderWidth: 2, borderRadius: 5, padding: [6, 8, 4, 8] },
    });
    rect(135, 73, 901, 947.7, { fill: "none", stroke: "#333", lineWidth: 3 });
    txt(71, 542, "−log10(P.Value)", 37, { bold: true, rot: Math.PI / 2, align: "center" });
    txt(598, 1069, "logFC", 37, { bold: true, align: "center", va: "middle" });
    txt(1053, 496, "Significant", 37, { bold: true });
    circ(1099, 544, 10, "#52a5d1"); circ(1099, 587, 10, "#bebebe");
    txt(1136, 544, "Down", 33); txt(1136, 587, "Not", 33);

    // ---------- B
    const cols = Array.from({ length: c1Samples + otherSamples }, (_, i) => String(i));
    const hmTop = 95.7, hmH = 947.7, hmL = 1332.4, hmW = 866.6;
    const gBar = addGrid(hmL, 73, hmW, 20, { type: "category", data: cols, show: false }, { type: "category", data: ["Type"], show: false });
    const barIdx = series.length;
    series.push({ type: "heatmap", xAxisIndex: gBar, yAxisIndex: gBar, progressive: 0, data: cols.map((_, i) => [i, 0, i < c1Samples ? 0 : 1]), itemStyle: { borderColor: "#999", borderWidth: 2.2 } });
    const gHm = addGrid(hmL, hmTop, hmW, hmH, { type: "category", data: cols, show: false },
      { type: "category", data: geneNames, inverse: true, position: "right", axisLine: { show: false }, axisTick: { show: false }, splitLine: { show: false },
        axisLabel: { interval: 0, margin: 5, fontFamily: SERIF, fontSize: 17.5, color: "#111" } });
    const hmIdx = series.length;
    const hmData: number[][] = [];
    expressionRows.forEach((row, r) => {
      const s = row.replace(/ /g, "");
      cols.forEach((_, c) => hmData.push([c, r, cellLevels[s[c] ?? "0"] ?? 0]));
    });
    series.push({ type: "heatmap", xAxisIndex: gHm, yAxisIndex: gHm, progressive: 0, data: hmData, itemStyle: { borderColor: "#999", borderWidth: 2.2 } });
    rect(hmL, 73, hmW, 20, { fill: "none", stroke: "#999", lineWidth: 3 });
    rect(hmL, hmTop, hmW, hmH, { fill: "none", stroke: "#999", lineWidth: 3 });
    // dendrogram
    const gDen = addGrid(1239, hmTop, 93.4, hmH, hidden({ min: 0, max: 1, inverse: true }), hidden({ min: 0, max: geneNames.length, inverse: true }));
    const segs: number[][] = [];
    const walk = (n: any): [number, number] => {
      if (typeof n === "number") return [0, n + 0.5];
      const [h, a, b] = n;
      const [ha, ya] = walk(a), [hb, yb] = walk(b);
      segs.push([h, ya, h, yb, 3.5], [h, ya, ha, ya, 3.5], [h, yb, hb, yb, 3.5]);
      return [h, (ya + yb) / 2];
    };
    walk(dendrogram);
    segSeries(gDen, segs, "#111", 2);
    txt(2205, 80, "Type", 30, { bold: true });
    colorBar(2274, 72.5, 19, 257.5, [[-4, "#fb2f1f"], [0, "#ffffff"], [4, "#52a5d1"]]);
    ([["4", 79], ["2", 141], ["0", 201], ["−2", 263], ["−4", 323]] as [string, number][]).forEach(([t, y]) => txt(2300, y, t, 19));
    txt(2327, 79, "Type", 21, { bold: true });
    rect(2326, 89, 28, 53, { fill: "#999" });
    rect(2328.5, 92, 23, 23, { fill: "#52a5d1" }, 56);
    rect(2328.5, 117, 23, 22, { fill: "#fb2f1f" }, 56);
    txt(2359, 104, "C1", 19); txt(2359, 129, "others", 19);
    rect(2410, 120, 20, 20, { fill: "#fff" }, 70);

    // ---------- C
    const cx = [-2.317, 1.48];
    const gC = addGrid(2537.5, 71.9, 1161, 920,
      { type: "value", min: cx[0], max: cx[1], splitLine: { show: false }, axisLine: { show: false }, axisTick: { show: false }, offset: 11,
        axisLabel: { customValues: [-2, -1, 0, 1], margin: 6, fontFamily: SERIF, fontSize: 33, color: "#4d4d4d", formatter: minusFmt } },
      { type: "category", data: pathwayLabels, inverse: true, show: false });
    series.push({ type: "bar", xAxisIndex: gC, yAxisIndex: gC, z: 2, barWidth: 15, data: pathwayNES.map((v, i) => ({ value: v, itemStyle: { color: categoryColors[pathwayCategory[i]] } })) });
    series.push({
      type: "scatter", xAxisIndex: gC, yAxisIndex: gC, z: 3,
      data: pathwayNES.map((v, i) => ({ value: [v, pathwayLabels[i]], itemStyle: { color: lerpStops(logPStops, pathwayLogP[i]), opacity: 1 } })),
      symbolSize: (_v: any, p: any) => 22.3 * Math.pow(pathwayGeneCount[p.dataIndex], 0.26),
    });
    series.push({
      type: "scatter", xAxisIndex: gC, yAxisIndex: gC, z: 3, symbolSize: 0,
      data: pathwayLabels.map((l) => ({ value: [0.2, l], name: l })),
      label: { show: true, position: "right", distance: 0, offset: [0, -2.5], formatter: "{b}", fontFamily: SERIF, fontSize: 39, lineHeight: 39, color: "#111", align: "left" },
    });
    rect(2537.5, 64, 1161, 939, { fill: "none", stroke: "#000", lineWidth: 3 });
    rect(2536, 999, 1164, 7, { fill: "#000" });
    txt(2497, 539, "Description", 48, { bold: true, rot: Math.PI / 2, align: "center" });
    txt(3143, 1072, "NES", 46, { bold: true, align: "center" });
    txt(3749.5, 114, "Category", 43, { bold: true });
    ([[148.7, 172.6], [201, 224.5], [252.5, 277]] as number[][]).forEach(([top, my], i) => {
      rect(3750.5, top, 50, 48, { fill: categoryColors[i] });
      circ(3775.5, top + 24, 6, "#000");
      txt(3819, my, categoryNames[i], 30);
    });
    txt(3749.5, 384, "Gene Count", 38.5, { bold: true });
    ([[440.5, 20.5, "10"], [496.7, 24.5, "20"], [560, 27, "30"]] as [number, number, string][]).forEach(([y, r, t]) => {
      circ(3782.8, y, r, "#000"); txt(3835, y, t, 30);
    });
    txt(3749.5, 675, "−Log10(pvalue)", 36, { bold: true });
    colorBar(3749.5, 706.4, 53, 258.6, logPStops);
    barTicks(3749.5, 53, [769.6, 848.8, 928], 10);
    ([["3.0", 769.6], ["2.5", 848.8], ["2.0", 928]] as [string, number][]).forEach(([t, y]) => txt(3819, y, t, 30));

    // ---------- D
    const dFrames = [[1191.7, 401], [1608.5, 401], [2024.5, 403.8]];
    goFacets.forEach((f, k) => {
      const [top, h] = dFrames[k];
      const isLast = k === goFacets.length - 1;
      const gO = addGrid(443, top, 580.5, h,
        isLast ? { type: "value", min: 0, max: 10, interval: 2.5, splitLine: { show: false }, axisLine: { show: false },
          axisTick: { show: true, length: 7, lineStyle: { color: "#333", width: 3 } },
          axisLabel: { margin: 10, fontFamily: SERIF, fontWeight: "bold", fontSize: 32, color: "#000", formatter: (v: number) => v.toFixed(1) } } : hidden({ min: 0, max: 10 }),
        hidden({ min: 0.4, max: 5.6, inverse: true }));
      segSeries(gO, gridLines([0, 2.5, 5, 7.5, 10], [1.25, 3.75, 6.25, 8.75], [1, 2, 3, 4, 5], [], [0, 10], [0.4, 5.6]), "#ebebeb");
      const u = h / 5.2;
      const gI = addGrid(443, top + 0.1 * u, 580.5, 5 * u, hidden({ min: 0, max: 10 }),
        { type: "category", data: f.terms, inverse: true, axisLine: { show: false }, axisTick: { show: false },
          axisLabel: { interval: 0, margin: -1, formatter: richLabel, rich: richFor(37.5), fontFamily: SERIF, fontSize: 37.5, color: "#111" } });
      series.push({ type: "bar", xAxisIndex: gI, yAxisIndex: gI, z: 2, barWidth: "91%", data: f.counts.map((v, i) => ({ value: v, itemStyle: { color: lerpStops(goStops, f.padj[i]) } })) });
      rect(443, top, 580.5, h, { fill: "none", stroke: "#333", lineWidth: 3.5 });
      rect(1023.5, top, 40, h, { fill: "#d9d9d9", stroke: "#333", lineWidth: 3.5 });
      rect(1021, top, 5, h, { fill: "#333" }, 56);
      txt(1046, top + h / 2 + 7, f.strip, 33, { bold: true, rot: -Math.PI / 2, align: "center" });
    });
    txt(744.6, 2503.7, "Count", 38, { bold: true, align: "center" });
    txt(1105, 1698, "p.adjust", 33, { bold: true });
    colorBar(1104, 1725, 43, 206.4, goStops);
    barTicks(1104, 43, [1747, 1807.6, 1869], 9);
    ([["0.03", 1747], ["0.02", 1807.6], ["0.01", 1869]] as [string, number][]).forEach(([t, y]) => txt(1160, y, t, 28.5));

    // ---------- E
    const eY = [0.412, 10.6];
    const gEO = addGrid(1647.5, 1189.8, 575.5, 1241.2,
      { type: "value", min: 0, max: 12, interval: 3, splitLine: { show: false }, axisLine: { show: false },
        axisTick: { show: true, length: 7, lineStyle: { color: "#333", width: 3 } },
        axisLabel: { margin: 9, fontFamily: SERIF, fontWeight: "bold", fontSize: 32, color: "#000" } },
      hidden({ min: eY[0], max: eY[1], inverse: true }));
    segSeries(gEO, gridLines([0, 3, 6, 9, 12], [1.5, 4.5, 7.5, 10.5], [1, 2, 3, 4, 5, 6, 7, 8, 9, 10], [], [0, 12], eY), "#ebebeb");
    const gEI = addGrid(1647.5, 1200.5, 575.5, 1218, hidden({ min: 0, max: 12 }),
      { type: "category", data: keggTerms, inverse: true, axisLine: { show: false }, axisTick: { show: false },
        axisLabel: { interval: 0, margin: 11, padding: [14, 0, 0, 0], formatter: richLabel, rich: richFor(37), fontFamily: SERIF, fontSize: 37, color: "#111" } });
    series.push({ type: "bar", xAxisIndex: gEI, yAxisIndex: gEI, z: 2, barWidth: "90.5%", data: keggCounts.map((v, i) => ({ value: v, itemStyle: { color: lerpStops(keggStops, keggPadj[i]) } })) });
    rect(1647.5, 1189.8, 575.5, 1241.2, { fill: "none", stroke: "#333", lineWidth: 3 });
    txt(1948.5, 2505.5, "Count", 38, { bold: true, align: "center" });
    txt(2258, 1700.6, "p.adjust", 33, { bold: true });
    colorBar(2261, 1725, 41.6, 206.4, keggStops);
    barTicks(2261, 41.6, [1739, 1789, 1839, 1889.5], 9);
    ([["0.0020", 1739], ["0.0015", 1789], ["0.0010", 1839], ["0.0005", 1889.5]] as [string, number][]).forEach(([t, y]) => txt(2311, y, t, 28.6));

    // ---------- F
    const gF = addGrid(2450, 1080, 1634, 1459, hidden({ min: 2450, max: 4084 }), hidden({ min: 1080, max: 2539, inverse: true }));
    const node = (name: string, deg: number, x: number, y: number) => {
      const size = 50 + 2 * deg;
      return { name, value: [x, y], symbolSize: size, itemStyle: { color: lerpStops(degreeStops, deg) }, label: { fontSize: Math.round(23 + 0.35 * (size - 68)) } };
    };
    const outerStep = (2 * Math.PI) / outerRing.length;
    const innerStep = (2 * Math.PI) / innerRing.length;
    const nodes = [
      ...outerRing.map((n, i) => {
        const t = Math.PI + (i - 24) * outerStep;
        return node(n, outerDegree[i], 3235.7 + 655.5 * Math.sin(t), 1810.4 - 644.8 * Math.cos(t));
      }),
      ...innerRing.map((n, i) => {
        const t = i * innerStep;
        return node(n, innerDegree[i], 3253 + 437 * Math.sin(t), 1820 - 425 * Math.cos(t));
      }),
      node(hubName, hubDegree, 3235.7, 1819.7),
    ];
    const links: any[] = [];
    edgeLists.forEach(([s, ...ts]) => ts.forEach((t) => links.push({ source: s, target: t })));
    curvedEdges.forEach(([s, t]) => links.push({ source: s, target: t, lineStyle: { curveness: 0.5 } }));
    series.push({
      type: "graph", coordinateSystem: "cartesian2d", xAxisIndex: gF, yAxisIndex: gF, layout: "none", z: 3, silent: true,
      data: nodes, links, edgeSymbol: ["none", "none"],
      lineStyle: { color: "#a2a2a2", width: 1.9, opacity: 1, curveness: 0.04 },
      label: { show: true, position: "inside", fontFamily: SANS, color: "#1a1a1a" },
    });

    chart.setOption({
      animation: false,
      backgroundColor: "#fff",
      grid: grids, xAxis: xAxes, yAxis: yAxes, series,
      visualMap: [
        { type: "continuous", show: false, min: -4, max: 4, seriesIndex: hmIdx, inRange: { color: ["#fb2f1f", "#ffffff", "#52a5d1"] } },
        { type: "continuous", show: false, min: 0, max: 1, seriesIndex: barIdx, inRange: { color: ["#52a5d1", "#fb2f1f"] } },
      ],
      graphic: { elements: gfx },
    });
    return () => chart.dispose();
  }, []);
  return <div ref={ref} style={{ width: 4084, height: 2539 }} />;
}
export default App;
